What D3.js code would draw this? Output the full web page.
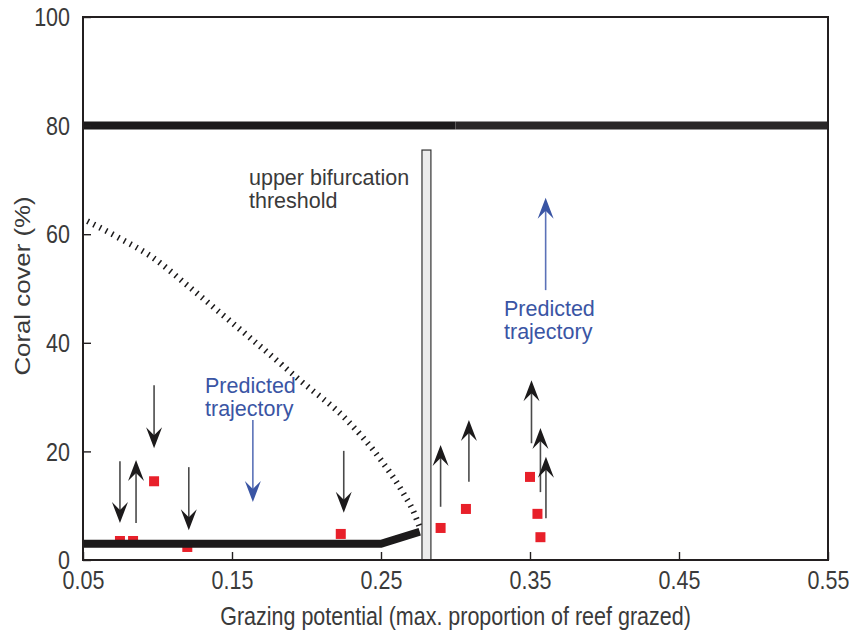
<!DOCTYPE html>
<html>
  <head>
    <meta charset="utf-8">
    <title>Coral cover vs grazing potential</title>
    <script src="https://d3js.org/d3.v7.min.js"></script>
    <style>
      body { margin: 0; background: #fff; }
      text { font-family: "Liberation Sans", Arial, sans-serif; fill: #3a3a3a; font-size: 21.5px; }
      .frame { fill: none; stroke: #231f20; stroke-width: 2; }
      .blue { fill: #3a55a4; }
    </style>
  </head>
  <body>
    <div id="chart"></div>
    <script>

      // ticks
      var xTicks = [0.05, 0.15, 0.25, 0.35, 0.45, 0.55];
      var yTicks = [0, 20, 40, 60, 80, 100];

      // observed reefs (red squares)
      var obsX = [0.0748, 0.0836, 0.0977, 0.120, 0.223, 0.290, 0.307, 0.350, 0.355, 0.357];
      var obsY = [3.5, 3.5, 14.5, 2.4, 4.8, 5.9, 9.4, 15.3, 8.5, 4.2];

      // observed trajectories (black arrows): x, start, end
      var arrX    = [0.0748, 0.0856, 0.0977, 0.121, 0.225, 0.290, 0.309, 0.351, 0.357, 0.3607];
      var arrFrom = [18.2, 6.8, 32.2, 17.1, 20.1, 9.8, 14.4, 21.5, 12.5, 7.7];
      var arrTo   = [6.8, 18.4, 20.6, 5.5, 8.7, 21.2, 25.8, 33.1, 24.3, 19.0];

      // predicted trajectories (blue arrows)
      var predX    = [0.164, 0.3605];
      var predFrom = [25.8, 49.7];
      var predTo   = [10.7, 66.7];

      // equilibria
      var upperX = [0.05, 0.30, 0.55];
      var upperY = [80, 80, 80];
      var lowerX = [0.05, 0.25, 0.276];
      var lowerY = [3, 3, 5.2];

      // unstable equilibrium (hatched curve)
      var curveX = [0.053, 0.075, 0.0963, 0.12, 0.14, 0.164, 0.196, 0.227, 0.25, 0.265, 0.272, 0.276];
      var curveY = [62.4, 59.2, 55.8, 50.6, 46, 40.5, 33, 25.8, 18.4, 12.3, 8.8, 6];

      // bifurcation threshold bar
      var barX = [0.2775, 0.2835];
      var barTop = 75.5;

      var width = 849,
        height = 633,
        mLeft = 83, mRight = 828, mTop = 17, mBottom = 560,
        stretch = 1.2;  // axis text in the original is drawn tall and narrow

      var svg = d3.select("#chart")
        .append("svg")
          .attr("width", width)
          .attr("height", height);

      var x = d3.scaleLinear().domain([0.05, 0.55]).range([mLeft, mRight]);
      var y = d3.scaleLinear().domain([0, 100]).range([mBottom, mTop]);

      var line = d3.line()
        .x((d) => x(d[0]))
        .y((d) => y(d[1]));

      // red squares (drawn first, the equilibrium line covers them)
      svg.append("g")
        .selectAll("rect")
        .data(d3.zip(obsX, obsY))
        .enter().append("rect")
          .attr("x", (d) => x(d[0]) - 5)
          .attr("y", (d) => y(d[1]) - 5)
          .attr("width", 10)
          .attr("height", 10)
          .style("fill", "#e8202a");

      // bar
      svg.append("rect")
        .attr("x", x(barX[0]))
        .attr("y", y(barTop))
        .attr("width", x(barX[1]) - x(barX[0]))
        .attr("height", y(0) - y(barTop))
        .style("fill", "#ececec")
        .style("stroke", "#333")
        .style("stroke-width", 1.2);

      // hatched unstable curve
      svg.append("path")
        .attr("d", line.curve(d3.curveMonotoneX)(d3.zip(curveX, curveY)))
        .style("fill", "none")
        .style("stroke", "#1c1a1b")
        .style("stroke-width", 6)
        .style("stroke-dasharray", "1.5,5.4");
      line.curve(d3.curveLinear);

      // upper stable equilibrium
      svg.append("path")
        .attr("d", line(d3.zip(upperX.slice(0, 2), upperY.slice(0, 2))))
        .style("fill", "none")
        .style("stroke", "#1c1a1b")
        .style("stroke-width", 8);
      svg.append("path")
        .attr("d", line(d3.zip(upperX.slice(1), upperY.slice(1))))
        .style("fill", "none")
        .style("stroke", "#2a2728")
        .style("stroke-width", 8);

      // lower stable equilibrium
      svg.append("path")
        .attr("d", line(d3.zip(lowerX, lowerY)))
        .style("fill", "none")
        .style("stroke", "#1c1a1b")
        .style("stroke-width", 8);

      function arrow(g, xv, from, to, shaftColor, headColor) {
        var dir = to > from ? -1 : 1;
        var tipY = y(to);
        g.append("line")
          .attr("x1", x(xv)).attr("x2", x(xv))
          .attr("y1", y(from)).attr("y2", tipY - dir * 12)
          .style("stroke", shaftColor)
          .style("stroke-width", 1.6);
        g.append("path")
          .attr("d", "M0,0 L-8,-21 L0,-13 L8,-21 Z")
          .attr("transform", "translate(" + x(xv) + "," + tipY + ")" + (dir < 0 ? " rotate(180)" : ""))
          .style("fill", headColor);
      }

      var arrows = svg.append("g");
      arrX.forEach((xv, i) => arrow(arrows, xv, arrFrom[i], arrTo[i], "#4a4a4a", "#1c1a1b"));
      predX.forEach((xv, i) => arrow(arrows, xv, predFrom[i], predTo[i], "#5b72b8", "#3a55a4"));

      // frame
      svg.append("rect")
        .attr("class", "frame")
        .attr("x", mLeft).attr("y", mTop)
        .attr("width", mRight - mLeft).attr("height", mBottom - mTop);

      // inward ticks
      svg.append("g")
        .attr("transform", "translate(0," + mBottom + ")")
        .call(d3.axisBottom(x).tickValues(xTicks).tickSizeInner(-8).tickSizeOuter(0).tickFormat(d3.format(".2f")))
        .call((g) => g.select(".domain").remove())
        .call((g) => g.selectAll("line").style("stroke", "#231f20").style("stroke-width", 1.4))
        .call((g) => g.selectAll("text").attr("y", 0).attr("dy", "0.71em")
          .attr("transform", "translate(0,11) scale(1," + stretch + ")")
          .style("font-size", "21.5px").style("fill", "#3a3a3a"));

      svg.append("g")
        .attr("transform", "translate(" + mLeft + ",0)")
        .call(d3.axisLeft(y).tickValues(yTicks).tickSizeInner(-8).tickSizeOuter(0))
        .call((g) => g.select(".domain").remove())
        .call((g) => g.selectAll("line").style("stroke", "#231f20").style("stroke-width", 1.4))
        .call((g) => g.selectAll("text").attr("x", -13).attr("dy", "0.34em")
          .attr("transform", "scale(1," + stretch + ")")
          .style("font-size", "21.5px").style("fill", "#3a3a3a"));

      // axis titles
      svg.append("text")
        .attr("transform", "translate(" + ((mLeft + mRight) / 2) + ",625) scale(1," + stretch + ")")
        .attr("text-anchor", "middle")
        .text("Grazing potential (max. proportion of reef grazed)");

      svg.append("text")
        .attr("transform", "translate(30,286) rotate(-90) scale(" + stretch + ",1)")
        .attr("text-anchor", "middle")
        .text("Coral cover (%)");

      // annotations
      function label(lines, lx, ly, cls) {
        var t = svg.append("text")
          .attr("x", lx).attr("y", ly);
        if (cls) t.attr("class", cls);
        lines.forEach((s, i) => t.append("tspan").attr("x", lx).attr("dy", i ? 23 : 0).text(s));
      }

      label(["upper bifurcation", "threshold"], 249, 185);
      label(["Predicted", "trajectory"], 205, 393, "blue");
      label(["Predicted", "trajectory"], 504, 316, "blue");

    </script>
  </body>
</html>
